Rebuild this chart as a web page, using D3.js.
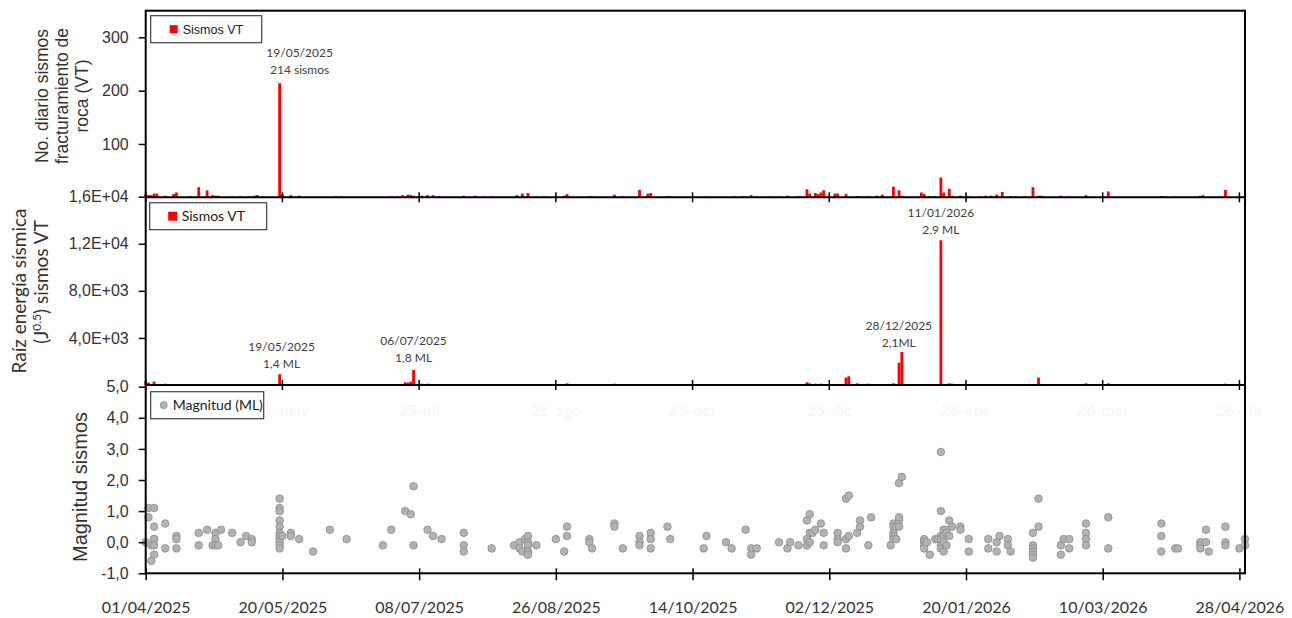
<!DOCTYPE html>
<html>
<head>
<meta charset="utf-8">
<script src="https://cdn.jsdelivr.net/npm/d3@7"></script>
<style>
  body { margin: 0; background: #fff; }
  svg { display: block; }
</style>
</head>
<body>
<div id="chart"></div>
<script>
// daily VT counts
const vtDates = ["2025-04-01","2025-04-02","2025-04-03","2025-04-04","2025-04-05","2025-04-08","2025-04-11","2025-04-12","2025-04-17","2025-04-20",
  "2025-04-23","2025-04-25","2025-04-26","2025-04-27","2025-05-02","2025-05-05","2025-05-08","2025-05-10","2025-05-11","2025-05-19",
  "2025-05-20","2025-05-23","2025-05-26","2025-05-31","2025-06-05","2025-06-08","2025-06-10","2025-06-25","2025-06-28","2025-06-30",
  "2025-07-02","2025-07-04","2025-07-05","2025-07-06","2025-07-09","2025-07-11","2025-07-13","2025-07-15","2025-07-24","2025-07-28",
  "2025-07-31","2025-08-03","2025-08-12","2025-08-14","2025-08-16","2025-08-19","2025-08-22","2025-08-29","2025-08-30","2025-09-07",
  "2025-09-08","2025-09-16","2025-09-19","2025-09-25","2025-09-28","2025-09-29","2025-10-05","2025-10-06","2025-10-16","2025-10-19",
  "2025-10-26","2025-10-29","2025-11-01","2025-11-04","2025-11-06","2025-11-11","2025-11-14","2025-11-17","2025-11-21","2025-11-22",
  "2025-11-24","2025-11-25","2025-11-27","2025-11-28","2025-11-29","2025-11-30","2025-12-04","2025-12-05","2025-12-08","2025-12-12",
  "2025-12-13","2025-12-16","2025-12-19","2025-12-21","2025-12-25","2025-12-27","2025-12-28","2026-01-04","2026-01-05","2026-01-07",
  "2026-01-09","2026-01-11","2026-01-12","2026-01-14","2026-01-15","2026-01-18","2026-01-21","2026-01-25","2026-01-27","2026-01-29",
  "2026-01-31","2026-02-02","2026-02-05","2026-02-07","2026-02-10","2026-02-13","2026-02-15","2026-02-16","2026-02-17","2026-02-23",
  "2026-02-26","2026-03-04","2026-03-12","2026-03-15","2026-03-31","2026-04-01","2026-04-05","2026-04-14","2026-04-15","2026-04-21",
  "2026-04-23","2026-04-29"];
const vtCounts = [6,4,4,7,7,3,6,9,2,19,
  13,4,3,3,2,2,2,3,4,214,
  5,4,3,1,1,2,2,1,2,2,
  4,5,4,3,3,4,4,2,3,3,
  2,2,4,7,8,2,2,3,6,2,
  2,5,2,14,7,8,2,2,1,2,
  1,2,2,4,2,2,2,3,2,2,
  15,7,8,6,9,13,7,7,6,2,
  2,2,3,5,20,13,3,9,6,2,
  2,37,9,16,3,3,2,2,3,3,
  5,10,2,2,2,19,3,3,1,3,
  2,4,11,1,2,2,2,3,4,2,
  14,2];

// square root of seismic energy (J^0.5)
const energyDates = ["2025-04-01","2025-04-02","2025-04-04","2025-04-08","2025-04-11","2025-04-17","2025-04-20","2025-04-23","2025-04-26","2025-04-27",
  "2025-05-02","2025-05-05","2025-05-08","2025-05-11","2025-05-19","2025-05-20","2025-05-23","2025-05-26","2025-05-31","2025-06-06",
  "2025-06-10","2025-06-25","2025-06-28","2025-07-02","2025-07-03","2025-07-04","2025-07-05","2025-07-06","2025-07-09","2025-07-11",
  "2025-07-13","2025-07-24","2025-07-28","2025-08-03","2025-08-12","2025-08-14","2025-08-16","2025-08-19","2025-08-22","2025-08-30",
  "2025-09-07","2025-09-08","2025-09-16","2025-09-19","2025-09-25","2025-09-29","2025-10-05","2025-10-16","2025-10-19","2025-10-26",
  "2025-10-29","2025-11-02","2025-11-04","2025-11-06","2025-11-11","2025-11-14","2025-11-17","2025-11-21","2025-11-24","2025-11-25",
  "2025-11-27","2025-11-29","2025-11-30","2025-12-04","2025-12-08","2025-12-09","2025-12-12","2025-12-16","2025-12-19","2025-12-21",
  "2025-12-25","2025-12-27","2025-12-28","2026-01-05","2026-01-07","2026-01-09","2026-01-11","2026-01-12","2026-01-14","2026-01-15",
  "2026-01-18","2026-01-27","2026-01-29","2026-02-02","2026-02-05","2026-02-10","2026-02-13","2026-02-15","2026-02-17","2026-02-23",
  "2026-02-26","2026-03-04","2026-03-12","2026-03-15","2026-03-31","2026-04-05","2026-04-14","2026-04-15","2026-04-21","2026-04-23"];
const energyValues = [340,200,290,110,90,70,80,80,70,90,
  60,70,60,80,910,90,80,60,60,60,
  60,60,80,60,230,200,285,1280,110,110,
  90,80,60,60,80,90,80,80,60,140,
  60,80,110,60,80,90,80,60,70,60,
  60,60,80,60,60,60,70,60,230,140,
  110,110,90,60,630,740,140,110,80,80,
  140,1900,2800,80,60,80,12300,90,140,110,
  80,70,60,80,60,80,60,630,60,60,
  60,140,140,60,80,60,80,80,60,110];

// local magnitude of each event
const magDates = ["2025-04-01","2025-04-02","2025-04-02","2025-04-03","2025-04-03","2025-04-04","2025-04-04","2025-04-04","2025-04-04","2025-04-04",
  "2025-04-04","2025-04-08","2025-04-08","2025-04-12","2025-04-12","2025-04-12","2025-04-20","2025-04-20","2025-04-23","2025-04-25",
  "2025-04-26","2025-04-26","2025-04-26","2025-04-27","2025-04-28","2025-05-02","2025-05-05","2025-05-07","2025-05-09","2025-05-09",
  "2025-05-19","2025-05-19","2025-05-19","2025-05-19","2025-05-19","2025-05-19","2025-05-19","2025-05-19","2025-05-19","2025-05-19",
  "2025-05-19","2025-05-20","2025-05-23","2025-05-23","2025-05-26","2025-05-31","2025-06-06","2025-06-12","2025-06-25","2025-06-28",
  "2025-07-03","2025-07-05","2025-07-06","2025-07-06","2025-07-11","2025-07-13","2025-07-16","2025-07-24","2025-07-24","2025-07-24",
  "2025-08-03","2025-08-11","2025-08-13","2025-08-13","2025-08-14","2025-08-15","2025-08-16","2025-08-16","2025-08-16","2025-08-16",
  "2025-08-16","2025-08-19","2025-08-26","2025-08-29","2025-08-30","2025-08-30","2025-09-07","2025-09-07","2025-09-08","2025-09-16",
  "2025-09-16","2025-09-19","2025-09-25","2025-09-25","2025-09-25","2025-09-29","2025-09-29","2025-09-29","2025-10-05","2025-10-06",
  "2025-10-18","2025-10-19","2025-10-26","2025-10-28","2025-11-02","2025-11-04","2025-11-04","2025-11-06","2025-11-14","2025-11-17",
  "2025-11-18","2025-11-21","2025-11-24","2025-11-24","2025-11-24","2025-11-25","2025-11-25","2025-11-25","2025-11-26","2025-11-27",
  "2025-11-29","2025-11-30","2025-11-30","2025-12-05","2025-12-05","2025-12-05","2025-12-08","2025-12-08","2025-12-08","2025-12-09",
  "2025-12-09","2025-12-12","2025-12-13","2025-12-13","2025-12-16","2025-12-17","2025-12-24","2025-12-25","2025-12-25","2025-12-25",
  "2025-12-25","2025-12-25","2025-12-26","2025-12-26","2025-12-27","2025-12-27","2025-12-27","2025-12-27","2025-12-28","2026-01-05",
  "2026-01-05","2026-01-05","2026-01-05","2026-01-06","2026-01-07","2026-01-09","2026-01-10","2026-01-11","2026-01-11","2026-01-11",
  "2026-01-11","2026-01-11","2026-01-11","2026-01-12","2026-01-12","2026-01-12","2026-01-12","2026-01-13","2026-01-13","2026-01-13",
  "2026-01-14","2026-01-14","2026-01-15","2026-01-18","2026-01-18","2026-01-21","2026-01-21","2026-01-28","2026-01-28","2026-01-31",
  "2026-01-31","2026-02-01","2026-02-04","2026-02-04","2026-02-05","2026-02-13","2026-02-13","2026-02-13","2026-02-13","2026-02-13",
  "2026-02-13","2026-02-15","2026-02-15","2026-02-23","2026-02-23","2026-02-24","2026-02-26","2026-02-26","2026-03-04","2026-03-04",
  "2026-03-04","2026-03-04","2026-03-12","2026-03-12","2026-03-31","2026-03-31","2026-03-31","2026-04-05","2026-04-06","2026-04-14",
  "2026-04-14","2026-04-14","2026-04-16","2026-04-16","2026-04-17","2026-04-23","2026-04-23","2026-04-23","2026-04-28","2026-04-30",
  "2026-04-30"];
const magValues = [0.0,1.1,0.8,-0.1,-0.6,0.1,0.1,-0.1,-0.4,1.1,
  0.5,0.6,-0.2,0.2,0.1,-0.2,0.3,-0.1,0.4,-0.1,
  0.3,0.1,-0.1,-0.1,0.4,0.3,0.0,0.2,0.1,0.0,
  1.4,1.1,1.0,0.7,0.5,0.3,0.2,0.1,0.0,-0.1,
  -0.2,0.2,0.3,0.2,0.1,-0.3,0.4,0.1,-0.1,0.4,
  1.0,0.9,1.8,-0.1,0.4,0.2,0.1,0.3,-0.1,-0.3,
  -0.2,-0.1,0.0,-0.2,-0.3,0.1,0.2,0.0,-0.1,-0.3,
  -0.4,-0.1,0.1,-0.3,0.5,0.2,0.1,0.0,-0.2,0.6,
  0.5,-0.2,0.2,0.0,-0.1,0.3,0.1,-0.2,0.5,0.1,
  -0.2,0.2,0.0,-0.2,0.4,-0.2,-0.4,-0.2,0.0,-0.2,
  0.0,-0.1,0.7,-0.1,0.1,0.9,0.3,0.0,0.3,0.4,
  0.6,0.3,-0.1,0.3,0.1,0.0,1.4,-0.2,0.1,1.5,
  0.2,0.3,0.7,0.5,-0.1,0.8,-0.1,0.6,0.5,0.3,
  0.2,0.1,0.5,0.1,1.9,0.7,0.8,0.5,2.1,0.1,
  0.0,-0.1,-0.2,0.0,-0.4,0.1,0.1,2.9,1.0,0.2,
  0.1,-0.1,-0.2,0.4,0.2,0.0,-0.3,0.4,0.3,-0.1,
  0.7,0.2,0.5,0.5,0.4,0.1,-0.3,0.1,-0.2,0.0,
  -0.3,0.2,0.1,-0.1,-0.3,0.3,-0.1,-0.2,-0.3,-0.4,
  -0.5,1.4,0.5,-0.1,-0.4,0.1,0.1,-0.2,0.6,0.3,
  0.1,-0.1,0.8,-0.2,0.6,0.2,-0.3,-0.2,-0.2,0.0,
  -0.1,-0.2,0.4,0.0,-0.3,0.5,0.0,-0.1,-0.2,0.1,
  -0.1];

const xTickDates = ["2025-04-01","2025-05-20","2025-07-08","2025-08-26","2025-10-14","2025-12-02","2026-01-20","2026-03-10","2026-04-28"];
// nearly invisible leftover labels inside the bottom panel (one per tick after the first)
const ghostLabels = ["25-may","25-jul","25-ago","25-oct","25-dic","26-ene","26-mar","26-abr"];

const vtTicks = [100, 200, 300];
const energyTicks = [4000, 8000, 12000, 16000];
const magTicks = [-1, 0, 1, 2, 3, 4, 5];

const vtNotes = [{date: "2025-05-19", value: 214, lines: ["19/05/2025", "214 sismos"]}];
const energyNotes = [
  {date: "2025-05-19", value: 910, lines: ["19/05/2025", "1,4 ML"]},
  {date: "2025-07-06", value: 1280, lines: ["06/07/2025", "1,8 ML"]},
  {date: "2025-12-28", value: 2800, lines: ["28/12/2025", "2,1ML"]},
  {date: "2026-01-11", value: 12300, lines: ["11/01/2026", "2,9 ML"]}
];

const W = 1292, H = 618;
const parse = d3.timeParse("%Y-%m-%d");
const fmtDate = d3.timeFormat("%d/%m/%Y");
const arial = "'Liberation Sans', Arial, sans-serif";
const calibri = "Lato, 'Open Sans', sans-serif";
const textCol = "#333";

const svg = d3.select("#chart").append("svg")
    .attr("width", W)
    .attr("height", H);

const x = d3.scaleTime()
    .domain([parse("2025-04-01"), parse("2026-04-30")])
    .range([145.7, 1245]);
const dayW = x(parse("2025-04-02")) - x(parse("2025-04-01"));

const yVT = d3.scaleLinear().domain([0, 350]).range([197.3, 10.7]);
const yEn = d3.scaleLinear().domain([0, 16000]).range([385, 196.7]);
const yMag = d3.scaleLinear().domain([-1, 5]).range([573.3, 386.7]);

function sci(v) {
    let parts = v.toExponential(1).split("e");
    let e = +parts[1];
    return parts[0].replace(".", ",") + "E" + (e < 0 ? "-" : "+") + String(Math.abs(e)).padStart(2, "0");
}
const comma1 = v => d3.format(".1f")(v).replace(".", ",").replace("−", "-");

// faint leftover labels of the bottom panel
svg.append("g").selectAll("text")
    .data(ghostLabels)
    .join("text")
    .attr("x", (d, i) => x(parse(xTickDates[i + 1])))
    .attr("y", 416)
    .attr("text-anchor", "middle")
    .style("font-family", calibri)
    .style("font-size", "16px")
    .style("fill", "#f6f6f6")
    .text(d => d);

// VT bars
svg.append("g").selectAll("rect")
    .data(vtDates.map((d, i) => ({date: parse(d), v: vtCounts[i]})))
    .join("rect")
    .attr("x", d => x(d.date) - dayW / 2)
    .attr("width", dayW)
    .attr("y", d => yVT(d.v))
    .attr("height", d => yVT(0) - yVT(d.v))
    .attr("fill", "#ff0000");

// energy bars
svg.append("g").selectAll("rect")
    .data(energyDates.map((d, i) => ({date: parse(d), v: energyValues[i]})))
    .join("rect")
    .attr("x", d => x(d.date) - dayW / 2)
    .attr("width", dayW)
    .attr("y", d => yEn(d.v))
    .attr("height", d => yEn(0) - yEn(d.v))
    .attr("fill", "#ff0000");

// magnitudes
svg.append("g").selectAll("circle")
    .data(magDates.map((d, i) => ({date: parse(d), v: magValues[i]})))
    .join("circle")
    .attr("cx", d => x(d.date))
    .attr("cy", d => yMag(d.v))
    .attr("r", 3.8)
    .attr("fill", "#b2b2b2")
    .attr("stroke", "#8c8c8c")
    .attr("stroke-width", 0.8);

// y axes
function yAxis(scale, ticks, fmt) {
    let g = svg.append("g")
        .attr("transform", `translate(${x.range()[0]},0)`)
        .call(d3.axisLeft(scale).tickValues(ticks).tickFormat(fmt).tickSize(7).tickPadding(10));
    g.select(".domain").remove();
    g.selectAll(".tick line").attr("stroke", "#000").attr("stroke-width", 1.5);
    g.selectAll(".tick text")
        .style("font-family", arial)
        .style("font-size", "16px")
        .style("fill", textCol);
}
yAxis(yVT, vtTicks, d => d);
yAxis(yEn, energyTicks, sci);
yAxis(yMag, magTicks, comma1);

// x axis with labels at the bottom
const xTicks = xTickDates.map(parse);
const xg = svg.append("g")
    .attr("transform", `translate(0,${yMag.range()[0]})`)
    .call(d3.axisBottom(x).tickValues(xTicks).tickFormat(fmtDate).tickSize(7));
xg.select(".domain").remove();
xg.selectAll(".tick line").attr("y1", -5).attr("y2", 7).attr("stroke", "#000").attr("stroke-width", 1.5);
xg.selectAll(".tick text")
    .attr("y", 28)
    .style("font-family", calibri)
    .style("font-size", "16px")
    .style("fill", textCol);

// crossing ticks on the inner panel borders
[yVT(0), yEn(0)].forEach(y0 => {
    svg.append("g").selectAll("line")
        .data(xTicks)
        .join("line")
        .attr("x1", d => x(d)).attr("x2", d => x(d))
        .attr("y1", y0 - 5).attr("y2", y0 + 5)
        .attr("stroke", "#000")
        .attr("stroke-width", 1.5);
});

// frame
const [xl, xr] = x.range();
svg.append("rect")
    .attr("x", xl).attr("y", yVT.range()[1])
    .attr("width", xr - xl).attr("height", yMag.range()[0] - yVT.range()[1])
    .attr("fill", "none").attr("stroke", "#000").attr("stroke-width", 2);
[yVT(0), yEn(0)].forEach(y0 => {
    svg.append("line")
        .attr("x1", xl).attr("x2", xr)
        .attr("y1", y0).attr("y2", y0)
        .attr("stroke", "#000").attr("stroke-width", 2);
});

// annotations
function notes(list, scale, layout) {
    list.forEach((n, i) => {
        let t = svg.append("text")
            .attr("text-anchor", "middle")
            .style("font-family", calibri)
            .style("font-size", "12px")
            .style("fill", "#404040");
        let cx = x(parse(n.date)) + layout[i].dx;
        let top = scale(n.value);
        n.lines.forEach((line, j) => {
            t.append("tspan")
                .attr("x", cx)
                .attr("y", top + layout[i].dy + j * 17)
                .text(line);
        });
    });
}
notes(vtNotes, yVT, [{dx: 20, dy: -26}]);
notes(energyNotes, yEn, [{dx: 2, dy: -23}, {dx: 0, dy: -25}, {dx: -3, dy: -22}, {dx: 0, dy: -23}]);

// legends
function legend(x0, y0, w, h, label, font, size, square) {
    let g = svg.append("g").attr("transform", `translate(${x0},${y0})`);
    g.append("rect").attr("width", w).attr("height", h)
        .attr("fill", "#fff").attr("stroke", "#404040").attr("stroke-width", 1.2);
    if (square) {
        g.append("rect").attr("x", 23 - square / 2).attr("y", h / 2 - square / 2)
            .attr("width", square).attr("height", square).attr("fill", "#ff0000");
    } else {
        g.append("circle").attr("cx", 13).attr("cy", h / 2).attr("r", 3.5)
            .attr("fill", "#b2b2b2").attr("stroke", "#8c8c8c").attr("stroke-width", 0.8);
    }
    g.append("text")
        .attr("x", square ? 32 : 22)
        .attr("y", h / 2 + size * 0.36)
        .style("font-family", font)
        .style("font-size", size + "px")
        .style("fill", "#222")
        .text(label);
}
legend(xl + 5, yVT.range()[1] + 5, 111, 27, "Sismos VT", arial, 12.5, 8);
legend(xl + 4, yEn.range()[1] + 6, 117, 27, "Sismos VT", calibri, 14, 9);
legend(xl + 5, yMag.range()[1] + 5, 113, 27, "Magnitud (ML)", calibri, 14, 0);

// y titles
function vtitle(cx, cy, lines, font, size, gap) {
    let t = svg.append("text")
        .attr("transform", `translate(${cx},${cy}) rotate(-90)`)
        .attr("text-anchor", "middle")
        .style("font-family", font)
        .style("font-size", size + "px")
        .style("fill", textCol);
    lines.forEach((line, j) => {
        t.append("tspan").attr("x", 0).attr("y", j * gap + size * 0.35).text(line);
    });
    return t;
}
vtitle(42, 96, ["No. diario sismos", "fracturamiento de", "roca (VT)"], arial, 17.5, 20);
vtitle(80, 487, ["Magnitud sismos"], arial, 20, 0);

const t1 = svg.append("text")
    .attr("transform", "translate(19,291) rotate(-90)")
    .attr("text-anchor", "middle")
    .attr("y", 7)
    .style("font-family", calibri)
    .style("font-size", "19px")
    .style("fill", textCol)
    .text("Raíz energía sísmica");
const t2 = svg.append("text")
    .attr("transform", "translate(41,282) rotate(-90)")
    .attr("text-anchor", "middle")
    .attr("y", 7)
    .style("font-family", calibri)
    .style("font-size", "19px")
    .style("fill", textCol);
t2.append("tspan").text("(J");
t2.append("tspan").attr("dy", -7).style("font-size", "12px").text("0.5");
t2.append("tspan").attr("dy", 7).text(") sismos VT");
</script>
</body>
</html>
